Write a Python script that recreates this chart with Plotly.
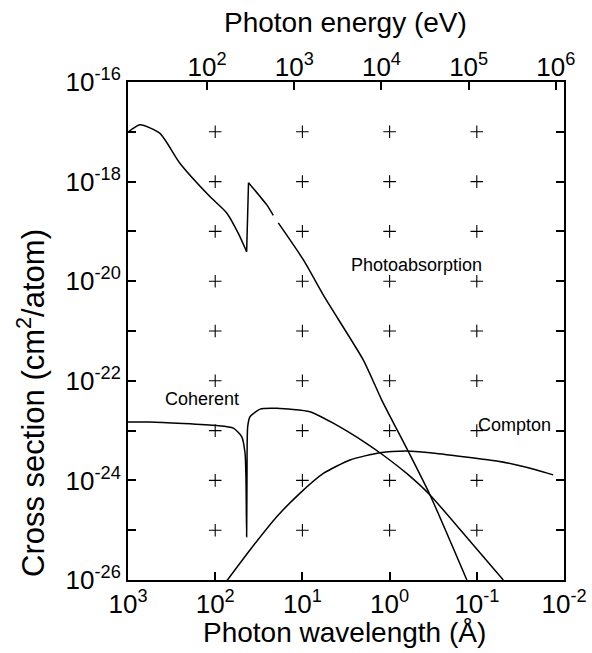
import math
import plotly.graph_objects as go

# ---- data ----
photo_lam = [1000, 728, 430, 254, 115, 73.8, 54.3, 43.6, None, 43.6, 41.5, None, 41.5, 25.6, 21.6, None, 18.9, 9.77, 5.5, 2.0, 1.23, 0.61, 0.344, 0.13]
photo_sig = [9.8e-18, 1.38e-17, 9.3e-18, 2.34e-18, 5.0e-19, 2.34e-19, 9.1e-20, 3.9e-20, None, 3.9e-20, 9.5e-19, None, 9.5e-19, 3.4e-19, 2.1e-19, None, 1.48e-19, 2.7e-20, 4.6e-21, 2.6e-22, 4.1e-23, 3.8e-24, 5.1e-25, 1.0e-26]

coh_lam = [1000, 560, 96.2, 61.9, 49.7, 45.5, 44.4, 43.6, 43.2, 42.4, 39.9, 30.6, 19.7, 8.18, 4.43, 1.83, 1.18, 0.637, 0.344, 0.143, 0.0497]
coh_sig = [1.48e-23, 1.48e-23, 1.26e-23, 1.12e-23, 7.6e-24, 3.55e-24, 1.17e-24, 7.4e-26, 1.2e-24, 1.2e-23, 1.9e-23, 2.7e-23, 2.8e-23, 2.4e-23, 1.41e-23, 5.5e-24, 3.2e-24, 1.38e-24, 5.1e-25, 8.7e-26, 1.0e-26]

comp_lam = [74, 39.9, 19.7, 10.7, 5.75, 2.84, 1.29, 0.637, 0.344, 0.143, 0.0592, 0.0348, 0.0206, 0.0133]
comp_sig = [9.5e-27, 4.0e-26, 1.86e-25, 5.5e-25, 1.38e-24, 2.57e-24, 3.6e-24, 3.9e-24, 3.6e-24, 3.0e-24, 2.45e-24, 2.04e-24, 1.62e-24, 1.29e-24]

grid_lam = [100, 10, 1, 0.1]
grid_sig = [1e-17, 1e-18, 1e-19, 1e-20, 1e-21, 1e-22, 1e-23, 1e-24, 1e-25]

lam_ticks = [1e3, 1e2, 1e1, 1e0, 1e-1, 1e-2]
lam_text = ["10<sup>3</sup>", "10<sup>2</sup>", "10<sup>1</sup>", "10<sup>0</sup>", "10<sup>-1</sup>", "10<sup>-2</sup>"]
en_ticks = [1e2, 1e3, 1e4, 1e5, 1e6]
en_text = ["10<sup>2</sup>", "10<sup>3</sup>", "10<sup>4</sup>", "10<sup>5</sup>", "10<sup>6</sup>"]
sig_ticks = [10.0 ** e for e in range(-26, -15)]
sig_text = [("10<sup>%d</sup>" % e if e % 2 == 0 else "") for e in range(-26, -15)]

HC = 12398.4  # eV*Angstrom

FONT = "Liberation Sans, Arial, Helvetica, sans-serif"
LW = 1.5

fig = go.Figure()

gx, gy = [], []
for lx in grid_lam:
    for sy in grid_sig:
        gx.append(lx)
        gy.append(sy)
fig.add_trace(go.Scatter(x=gx, y=gy, mode="markers",
                         marker=dict(symbol="cross-thin", size=9, line=dict(width=1.1, color="black")),
                         hoverinfo="skip", showlegend=False))

for xs, ys in [(photo_lam, photo_sig), (coh_lam, coh_sig), (comp_lam, comp_sig)]:
    fig.add_trace(go.Scatter(x=xs, y=ys, mode="lines",
                             line=dict(color="black", width=LW, shape="spline", smoothing=0.6),
                             connectgaps=False, showlegend=False, hoverinfo="skip"))

# dummy trace to activate the top energy axis
fig.add_trace(go.Scatter(x=[HC / 1000.0], y=[1e-30], xaxis="x2", mode="markers",
                         marker=dict(opacity=0), showlegend=False, hoverinfo="skip"))

axis_common = dict(ticks="inside", ticklen=8, tickwidth=1.5, tickcolor="black",
                   showgrid=False, zeroline=False, automargin=False,
                   tickfont=dict(size=26, family=FONT))

fig.update_layout(
    width=592, height=653,
    margin=dict(l=128, r=28, t=82, b=73, autoexpand=False),
    paper_bgcolor="white", plot_bgcolor="white",
    font=dict(family=FONT, color="black"),
    showlegend=False,
    xaxis=dict(type="log", range=[3, -2], tickvals=lam_ticks, ticktext=lam_text,
               showline=True, linecolor="black", linewidth=2, mirror=True, **axis_common),
    xaxis2=dict(type="log", overlaying="x", side="top",
                range=[math.log10(HC / 1000.0), math.log10(HC / 0.01)],
                tickvals=en_ticks, ticktext=en_text, showline=False, **axis_common),
    yaxis=dict(type="log", range=[-26, -16], tickvals=sig_ticks, ticktext=sig_text,
               showline=True, linecolor="black", linewidth=2, mirror="ticks", **axis_common),
)

ann = [
    dict(text="Photoabsorption", x=-0.303, y=-19.67),
    dict(text="Coherent", x=2.151, y=-22.37),
    dict(text="Compton", x=-1.438, y=-22.89),
]
for a in ann:
    fig.add_annotation(text=a["text"], x=a["x"], y=a["y"], xref="x", yref="y",
                       xanchor="center", yanchor="middle",
                       showarrow=False, font=dict(size=18, family=FONT))

fig.add_annotation(text="Photon energy (eV)", x=(345.5 - 128) / 436, y=(580 - 22) / 498,
                   xref="paper", yref="paper", xanchor="center", yanchor="middle",
                   showarrow=False, font=dict(size=28, family=FONT))
fig.add_annotation(text="Photon wavelength (Å)", x=(344 - 128) / 436, y=(580 - 632) / 498,
                   xref="paper", yref="paper", xanchor="center", yanchor="middle",
                   showarrow=False, font=dict(size=28, family=FONT))
fig.add_annotation(text="Cross section (cm<sup>2</sup>/atom)", x=(31 - 128) / 436, y=(580 - 403) / 498,
                   xref="paper", yref="paper", xanchor="center", yanchor="middle",
                   showarrow=False, textangle=-90,
                   font=dict(size=31, family=FONT))

fig.write_html("out.html")
